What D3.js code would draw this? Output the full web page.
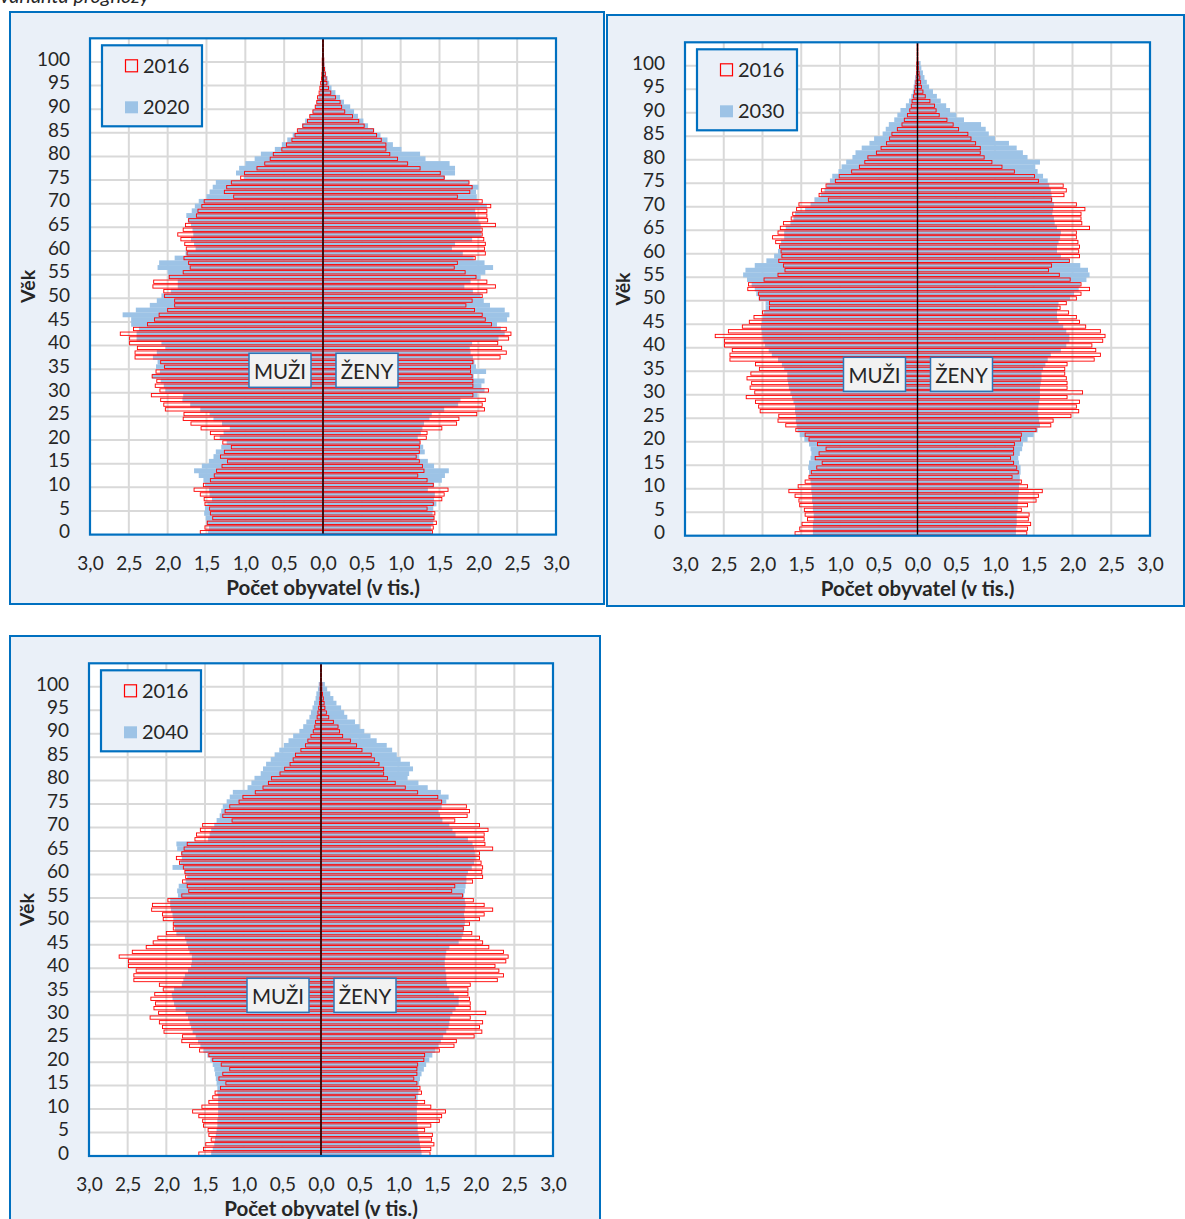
<!DOCTYPE html>
<html>
<head>
<meta charset="utf-8">
<script src="https://cdn.jsdelivr.net/npm/d3@7"></script>
<style>
  body { margin: 0; background: #fff; }
  svg { display: block; font-family: Lato, "Open Sans", sans-serif; }
</style>
</head>
<body>
<svg id="chart" width="1185" height="1219"></svg>
<script>
// ages 0..104 (the last four are only the hairline at the top)
const ages = d3.range(0, 105);
const ageTicks = d3.range(0, 101, 5);
const xTicks = [-3, -2.5, -2, -1.5, -1, -0.5, 0, 0.5, 1, 1.5, 2, 2.5, 3];

// population in thousands, index = age
const male2016 = [
  1.58,1.52,1.49,1.42,1.45,1.46,1.52,1.53,1.58,1.66,
  1.54,1.45,1.40,1.37,1.30,1.23,1.32,1.27,1.18,1.29,
  1.40,1.45,1.57,1.70,1.80,1.79,2.03,2.05,2.09,2.21,
  2.10,2.16,2.14,2.20,2.15,2.04,2.09,2.42,2.42,2.39,
  2.49,2.49,2.61,2.44,2.26,2.17,2.11,2.00,1.91,1.91,
  2.04,2.05,2.19,2.18,1.98,1.80,1.71,1.73,1.79,1.75,
  1.76,1.78,1.83,1.87,1.80,1.77,1.73,1.63,1.61,1.56,
  1.53,1.15,1.27,1.24,1.18,1.06,1.01,0.85,0.75,0.68,
  0.64,0.53,0.47,0.40,0.36,0.33,0.26,0.20,0.17,0.13,
  0.10,0.08,0.07,0.05,0.04,0.03,0.02,0.015,0.01,0.01,
  0.01,0.005,0.005,0.005,0.005];
const female2016 = [
  1.41,1.42,1.46,1.43,1.44,1.34,1.42,1.53,1.56,1.61,
  1.42,1.34,1.22,1.30,1.28,1.24,1.20,1.24,1.24,1.25,
  1.33,1.34,1.53,1.72,1.75,1.98,2.08,2.05,2.09,1.93,
  2.13,1.93,1.93,1.92,1.90,1.90,1.93,2.28,2.36,2.30,
  2.25,2.39,2.42,2.36,2.17,2.09,2.05,1.95,1.84,1.92,
  2.05,2.11,2.22,2.11,1.97,1.83,1.69,1.73,1.96,2.09,
  2.08,2.09,2.07,2.05,2.05,2.22,2.12,2.11,2.11,2.16,
  2.05,1.73,1.89,1.92,1.88,1.56,1.51,1.25,1.09,0.96,
  0.86,0.81,0.81,0.75,0.69,0.65,0.53,0.46,0.38,0.28,
  0.24,0.22,0.16,0.10,0.07,0.05,0.04,0.03,0.02,0.01,
  0.01,0.005,0.005,0.005,0.005];

const male2020 = [
  1.48,1.47,1.50,1.51,1.53,1.52,1.49,1.43,1.46,1.47,
  1.52,1.54,1.60,1.66,1.56,1.47,1.41,1.38,1.31,1.24,
  1.33,1.28,1.20,1.30,1.41,1.46,1.58,1.71,1.81,1.80,
  2.03,2.05,2.09,2.20,2.10,2.15,2.13,2.19,2.14,2.03,
  2.08,2.40,2.40,2.37,2.47,2.47,2.58,2.41,2.23,2.14,
  2.08,1.96,1.87,1.87,1.99,2.00,2.13,2.11,1.91,1.77,
  1.64,1.66,1.70,1.67,1.68,1.70,1.74,1.76,1.69,1.65,
  1.60,1.50,1.46,1.42,1.38,1.02,1.12,1.08,1.00,0.88,
  0.80,0.62,0.53,0.46,0.39,0.32,0.27,0.23,0.17,0.13,
  0.10,0.08,0.06,0.04,0.03,0.025,0.02,0.015,0.01,0.01,
  0.01,0,0,0,0];
const female2020 = [
  1.40,1.39,1.42,1.43,1.41,1.42,1.46,1.43,1.44,1.35,
  1.43,1.53,1.57,1.62,1.43,1.35,1.24,1.31,1.29,1.25,
  1.22,1.26,1.28,1.30,1.37,1.40,1.56,1.74,1.77,1.99,
  2.08,2.04,2.08,1.94,2.10,1.97,1.95,1.93,1.90,1.89,
  1.92,2.26,2.34,2.29,2.24,2.37,2.40,2.34,2.15,2.07,
  2.03,1.93,1.82,1.90,2.03,2.09,2.19,2.08,1.94,1.80,
  1.66,1.70,1.92,2.04,2.03,2.03,2.00,1.97,1.96,2.11,
  2.00,1.98,1.97,2.00,1.88,1.57,1.70,1.70,1.63,1.32,
  1.25,1.01,0.90,0.83,0.74,0.66,0.58,0.52,0.45,0.40,
  0.35,0.27,0.22,0.16,0.11,0.08,0.06,0.04,0.03,0.02,
  0.015,0,0,0,0];

const male2030 = [
  1.35,1.35,1.35,1.34,1.34,1.35,1.35,1.36,1.36,1.37,
  1.37,1.38,1.39,1.40,1.41,1.40,1.38,1.37,1.38,1.40,
  1.46,1.52,1.55,1.56,1.57,1.57,1.58,1.58,1.60,1.62,
  1.64,1.66,1.67,1.68,1.68,1.72,1.75,1.80,1.88,1.92,
  1.97,1.99,2.00,2.01,2.02,2.01,2.00,1.98,1.96,1.96,
  2.05,2.08,2.10,2.14,2.20,2.25,2.22,2.10,1.95,1.85,
  1.80,1.78,1.76,1.72,1.72,1.70,1.64,1.60,1.58,1.45,
  1.38,1.33,1.25,1.20,1.17,1.13,1.10,1.02,0.98,0.92,
  0.84,0.80,0.72,0.62,0.56,0.45,0.41,0.37,0.30,0.26,
  0.22,0.15,0.11,0.08,0.06,0.05,0.04,0.03,0.02,0.015,
  0.01,0,0,0,0];
const female2030 = [
  1.27,1.27,1.28,1.28,1.28,1.29,1.29,1.30,1.30,1.31,
  1.31,1.32,1.32,1.33,1.33,1.31,1.30,1.32,1.35,1.36,
  1.42,1.50,1.55,1.58,1.57,1.56,1.55,1.56,1.57,1.58,
  1.58,1.58,1.59,1.60,1.60,1.62,1.65,1.68,1.72,1.85,
  1.92,1.96,1.96,1.92,1.88,1.82,1.80,1.80,1.81,1.82,
  1.97,2.02,2.08,2.10,2.18,2.22,2.20,2.10,1.96,1.85,
  1.80,1.80,1.82,1.84,1.85,1.80,1.77,1.76,1.74,1.75,
  1.76,1.74,1.73,1.72,1.70,1.68,1.62,1.55,1.52,1.58,
  1.42,1.36,1.28,1.18,1.00,0.92,0.88,0.82,0.60,0.50,
  0.42,0.37,0.30,0.25,0.20,0.15,0.12,0.09,0.07,0.05,
  0.04,0,0,0,0];

const male2040 = [
  1.42,1.40,1.38,1.37,1.36,1.35,1.34,1.34,1.33,1.33,
  1.33,1.33,1.33,1.34,1.34,1.35,1.36,1.37,1.38,1.40,
  1.43,1.47,1.52,1.56,1.59,1.62,1.66,1.68,1.70,1.72,
  1.75,1.88,1.90,1.92,1.93,1.90,1.80,1.78,1.76,1.72,
  1.68,1.67,1.67,1.70,1.72,1.74,1.76,1.87,1.89,1.90,
  1.91,1.92,1.94,1.95,1.95,1.85,1.86,1.84,1.75,1.73,
  1.76,1.92,1.82,1.80,1.81,1.86,1.87,1.46,1.44,1.42,
  1.38,1.35,1.31,1.29,1.27,1.22,1.18,1.14,0.95,0.90,
  0.86,0.78,0.75,0.71,0.65,0.60,0.54,0.48,0.42,0.36,
  0.28,0.23,0.19,0.15,0.13,0.11,0.09,0.07,0.06,0.04,
  0.03,0,0,0,0];
const female2040 = [
  1.30,1.29,1.28,1.27,1.26,1.25,1.25,1.24,1.24,1.24,
  1.24,1.25,1.25,1.26,1.26,1.27,1.28,1.30,1.33,1.36,
  1.40,1.44,1.48,1.52,1.55,1.58,1.62,1.65,1.66,1.67,
  1.70,1.74,1.78,1.78,1.72,1.66,1.63,1.62,1.62,1.61,
  1.60,1.60,1.61,1.62,1.66,1.78,1.82,1.84,1.85,1.86,
  1.86,1.85,1.86,1.87,1.86,1.85,1.86,1.87,1.88,1.88,
  1.90,1.95,1.98,2.00,1.99,1.98,1.96,1.90,1.74,1.70,
  1.66,1.57,1.54,1.52,1.56,1.62,1.65,1.55,1.38,1.26,
  1.12,1.14,1.19,1.15,1.03,0.98,0.92,0.85,0.72,0.64,
  0.56,0.50,0.44,0.34,0.30,0.26,0.20,0.16,0.12,0.08,
  0.05,0,0,0,0];

const baseYear = "2016";
const panels = [
  { outer: [10, 12, 594, 592], plot: [90, 38.3, 556, 534.6], year: "2020", men: male2020, women: female2020 },
  { outer: [607, 15, 577, 591], plot: [685, 42.3, 1150, 535.7], year: "2030", men: male2030, women: female2030 },
  { outer: [10, 636, 590, 600], plot: [89, 663.3, 553, 1156], year: "2040", men: male2040, women: female2040 }
];

const BLUE = "#9DC3E6", RED = "#FF0000", FRAME = "#0070C0", GRID = "#D9D9D9", TXT = "#262626";

const svg = d3.select("#chart");

svg.append("text")
    .attr("x", 0).attr("y", 3)
    .attr("font-size", 20).attr("font-style", "italic").attr("fill", TXT)
    .text("varianta prognózy");

function drawPyramid(p){
    const [ox, oy, ow, oh] = p.outer;
    const [x0, y0, x1, y1] = p.plot;
    const g = svg.append("g");

    g.append("rect")
        .attr("x", ox).attr("y", oy).attr("width", ow).attr("height", oh)
        .attr("fill", "#EAF0F8").attr("stroke", FRAME).attr("stroke-width", 2);

    g.append("rect")
        .attr("x", x0).attr("y", y0).attr("width", x1 - x0).attr("height", y1 - y0)
        .attr("fill", "#fff");

    const x = d3.scaleLinear().domain([-3, 3]).range([x0, x1]);
    const y = d3.scaleBand().domain(ages).range([y1, y0]);
    const bw = y.bandwidth();
    const cx = x(0);

    // gridlines
    g.append("g").selectAll("line")
        .data(xTicks.filter(d => d !== 0 && Math.abs(d) < 3))
        .join("line")
            .attr("x1", d => x(d)).attr("x2", d => x(d))
            .attr("y1", y0).attr("y2", y1)
            .attr("stroke", GRID).attr("stroke-width", 2);
    g.append("g").selectAll("line")
        .data(ageTicks.filter(d => d > 0))
        .join("line")
            .attr("x1", x0).attr("x2", x1)
            .attr("y1", d => y(d) + bw).attr("y2", d => y(d) + bw)
            .attr("stroke", GRID).attr("stroke-width", 2);

    // projected year, filled
    g.append("g").selectAll("rect")
        .data(ages)
        .join("rect")
            .attr("x", a => x(-p.men[a]))
            .attr("width", a => cx - x(-p.men[a]))
            .attr("y", a => y(a) - 0.1).attr("height", bw + 0.2)
            .attr("fill", BLUE);
    g.append("g").selectAll("rect")
        .data(ages)
        .join("rect")
            .attr("x", cx)
            .attr("width", a => x(p.women[a]) - cx)
            .attr("y", a => y(a) - 0.1).attr("height", bw + 0.2)
            .attr("fill", BLUE);

    // 2016, outline only
    g.append("g").selectAll("rect")
        .data(ages)
        .join("rect")
            .attr("x", a => x(-male2016[a]))
            .attr("width", a => cx - x(-male2016[a]))
            .attr("y", a => y(a) + 0.7).attr("height", bw - 1.4)
            .attr("fill", "none").attr("stroke", RED).attr("stroke-width", 0.9);
    g.append("g").selectAll("rect")
        .data(ages)
        .join("rect")
            .attr("x", cx)
            .attr("width", a => x(female2016[a]) - cx)
            .attr("y", a => y(a) + 0.7).attr("height", bw - 1.4)
            .attr("fill", "none").attr("stroke", RED).attr("stroke-width", 0.9);

    g.append("line")
        .attr("x1", cx).attr("x2", cx).attr("y1", y0).attr("y2", y1)
        .attr("stroke", "#000").attr("stroke-width", 1.4);

    g.append("rect")
        .attr("x", x0).attr("y", y0).attr("width", x1 - x0).attr("height", y1 - y0)
        .attr("fill", "none").attr("stroke", FRAME).attr("stroke-width", 2.2);

    // axes
    const yAxis = g.append("g")
        .attr("transform", `translate(${x0},0)`)
        .call(d3.axisLeft(y).tickValues(ageTicks).tickSize(0).tickPadding(20));
    const xAxis = g.append("g")
        .attr("transform", `translate(0,${y1})`)
        .call(d3.axisBottom(x).tickValues(xTicks).tickSize(0).tickPadding(22)
            .tickFormat(d => d3.format(".1f")(Math.abs(d)).replace(".", ",")));
    [yAxis, xAxis].forEach(ax => {
        ax.select(".domain").remove();
        ax.selectAll("text")
            .attr("font-family", "Lato, sans-serif")
            .attr("font-size", 19).attr("fill", TXT);
    });

    g.append("text")
        .attr("x", (x0 + x1) / 2).attr("y", y1 + 60)
        .attr("text-anchor", "middle")
        .attr("font-size", 20.5).attr("font-weight", "bold").attr("fill", TXT)
        .text("Počet obyvatel (v tis.)");

    g.append("text")
        .attr("transform", `translate(${x0 - 62},${(y0 + y1) / 2}) rotate(-90)`)
        .attr("text-anchor", "middle").attr("dy", "0.35em")
        .attr("font-size", 19.5).attr("font-weight", "bold").attr("fill", TXT)
        .text("Věk");

    // legend
    const lx = x0 + 12, ly = y0 + 7;
    g.append("rect")
        .attr("x", lx).attr("y", ly).attr("width", 100).attr("height", 81)
        .attr("fill", "#EAF0F8").attr("stroke", FRAME).attr("stroke-width", 2.2);
    g.append("rect")
        .attr("x", lx + 23.5).attr("y", ly + 14.5).attr("width", 12).attr("height", 12)
        .attr("fill", "none").attr("stroke", RED).attr("stroke-width", 1.2);
    g.append("rect")
        .attr("x", lx + 23).attr("y", ly + 56).attr("width", 13).attr("height", 12)
        .attr("fill", BLUE);
    [[baseYear, 28], [p.year, 68.5]].forEach(([t, dy]) => {
        g.append("text")
            .attr("x", lx + 41).attr("y", ly + dy)
            .attr("font-size", 20).attr("fill", TXT)
            .text(t);
    });

    // sex labels
    [["MUŽI", -74], ["ŽENY", 13]].forEach(([t, dx]) => {
        g.append("rect")
            .attr("x", cx + dx).attr("y", y0 + 315).attr("width", 62).attr("height", 34)
            .attr("fill", "#F2F2F2").attr("stroke", "#2E75B6").attr("stroke-width", 1.5);
        g.append("text")
            .attr("x", cx + dx + 31).attr("y", y0 + 341)
            .attr("text-anchor", "middle")
            .attr("font-size", 20.5).attr("fill", TXT)
            .text(t);
    });
}

panels.forEach(drawPyramid);
</script>
</body>
</html>
